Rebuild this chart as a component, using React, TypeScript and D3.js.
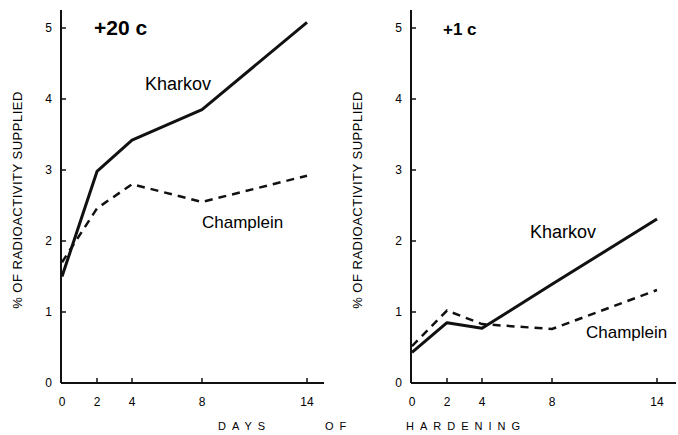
import * as d3 from 'd3';

const days = [0, 2, 4, 8, 14];
const yTicks = [0, 1, 2, 3, 4, 5];

// +20 C panel
const warmKharkov = [1.5, 2.98, 3.42, 3.85, 5.08];
const warmChamplein = [1.7, 2.46, 2.8, 2.55, 2.92];

// +1 C panel
const coldKharkov = [0.43, 0.85, 0.77, 1.39, 2.31];
const coldChamplein = [0.52, 1.02, 0.83, 0.76, 1.31];

const W = 678;
const H = 435;
const FONT = '"Liberation Sans", Arial, sans-serif';

type PanelProps = {
  x0: number;
  x14: number;
  axisEnd: number;
  title: string;
  titleX: number;
  titleSize: number;
  kharkov: number[];
  champlein: number[];
  kLabel: [number, number];
  cLabel: [number, number];
  ylabelX: number;
};

function Panel(p: PanelProps) {
  const x = d3.scaleLinear().domain([0, 14]).range([p.x0, p.x14]);
  const y = d3.scaleLinear().domain([0, 5]).range([383, 28]);
  const line = d3.line<number>().x((_, i) => x(days[i])).y(d => y(d));
  const axX = p.x0 - 1;

  return (
    <g>
      {/* y axis */}
      <line x1={axX} x2={axX} y1={10} y2={y(0)} stroke="#111" strokeWidth={2} />
      {yTicks.map(t => (
        <g key={t}>
          {t > 0 && <line x1={axX} x2={axX + 5} y1={y(t)} y2={y(t)} stroke="#111" strokeWidth={1.5} />}
          <text x={axX - 9} y={y(t) + 4} fontSize={12} textAnchor="end" fontFamily={FONT}>{t}</text>
        </g>
      ))}
      {/* x axis */}
      <line x1={axX} x2={p.axisEnd} y1={y(0)} y2={y(0)} stroke="#111" strokeWidth={2} />
      {days.map(d => (
        <g key={d}>
          {d > 0 && <line x1={x(d)} x2={x(d)} y1={y(0)} y2={y(0) - 5} stroke="#111" strokeWidth={1.5} />}
          <text x={x(d)} y={406} fontSize={12} textAnchor="middle" fontFamily={FONT}>{d}</text>
        </g>
      ))}
      {/* y label */}
      <text
        transform={`translate(${p.ylabelX},${200}) rotate(-90)`}
        fontSize={13}
        textAnchor="middle"
        fontFamily={FONT}
        letterSpacing={0.5}
      >
        % OF RADIOACTIVITY SUPPLIED
      </text>
      {/* series */}
      <path d={line(p.kharkov) ?? ''} fill="none" stroke="#111" strokeWidth={3} strokeLinejoin="round" />
      <path d={line(p.champlein) ?? ''} fill="none" stroke="#111" strokeWidth={2.5} strokeDasharray="8,6" />
      {/* labels */}
      <text x={p.titleX} y={35} fontSize={p.titleSize} fontWeight="bold" fontFamily={FONT}>{p.title}</text>
      <text x={p.kLabel[0]} y={p.kLabel[1]} fontSize={18} fontFamily={FONT}>Kharkov</text>
      <text x={p.cLabel[0]} y={p.cLabel[1]} fontSize={17} fontFamily={FONT}>Champlein</text>
    </g>
  );
}

export default function App() {
  return (
    <svg width={W} height={H} style={{ position: 'absolute', left: 0, top: 0, background: '#fff' }}>
      <Panel
        x0={62} x14={307} axisEnd={324}
        title="+20 c" titleX={94} titleSize={21}
        kharkov={warmKharkov} champlein={warmChamplein}
        kLabel={[145, 90]} cLabel={[202, 228]}
        ylabelX={22}
      />
      <Panel
        x0={412} x14={657} axisEnd={676}
        title="+1 c" titleX={443} titleSize={17}
        kharkov={coldKharkov} champlein={coldChamplein}
        kLabel={[530, 238]} cLabel={[586, 338]}
        ylabelX={362}
      />
      <text x={218} y={430} fontSize={11} fontFamily={FONT} letterSpacing={6}>DAYS</text>
      <text x={325} y={430} fontSize={11} fontFamily={FONT} letterSpacing={6}>OF</text>
      <text x={406} y={430} fontSize={11} fontFamily={FONT} letterSpacing={6}>HARDENING</text>
    </svg>
  );
}
